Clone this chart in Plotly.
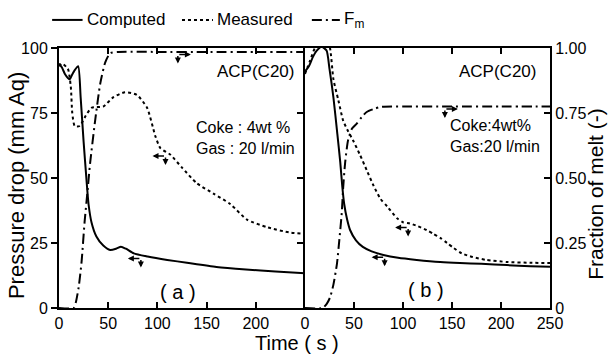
import plotly.graph_objects as go

# ---------------- data ----------------
# Panel (a)
ta_comp = [0, 3, 6, 9, 11, 13, 16, 19.5, 22, 25, 28, 30, 33, 38, 45, 52, 58, 63, 68, 76, 90, 110, 130, 160, 190, 220, 250]
pa_comp = [94, 92.5, 90, 88.5, 88, 89.5, 91.5, 93, 81, 64, 49, 40, 33, 27.5, 24, 22.3, 22.8, 23.6, 22.8, 21, 19.8, 18.5, 17.4, 15.8, 14.8, 14.0, 13.4]

ta_meas = [0, 3, 9, 12, 13.5, 16, 21, 26.5, 33, 45, 55, 67, 79, 89.5, 98, 103, 113, 125, 140, 157, 174, 191, 212, 235, 250]
pa_meas = [93, 94, 92, 85, 75, 70, 70, 73.5, 77, 77.5, 81, 83, 82, 77, 66, 61.5, 59, 54, 48, 44, 40, 34, 31, 29, 28.5]

ta_fm = [0, 15, 17, 20, 23, 26, 29, 31.6, 36.7, 42, 47, 52, 60, 100, 150, 200, 250]
fa_fm = [0, 0, 0.02, 0.08, 0.18, 0.33, 0.45, 0.556, 0.72, 0.865, 0.945, 0.98, 0.985, 0.985, 0.985, 0.985, 0.985]

# Panel (b)
tb_comp = [0, 4, 8, 12, 17, 22, 25, 29, 33, 36, 38, 40, 43, 46, 52, 59, 68, 80, 95, 114, 138, 158, 180, 206, 230, 250]
pb_comp = [91, 93, 96.5, 99, 100.5, 99, 92, 81, 67, 56, 47, 40, 34, 30, 26, 23.5, 21.8, 20.4, 19.3, 18.5, 17.7, 17.3, 17.0, 16.5, 16.1, 15.9]

tb_meas = [0, 5, 10, 15, 18, 22, 25.5, 29, 34, 39, 44, 49, 56, 63, 70, 77, 84, 94, 100, 107, 115, 124, 131, 138, 145, 152, 160, 171, 185, 206, 230, 250]
pb_meas = [90, 95, 100, 103.5, 104, 103, 100, 88, 80, 72, 68, 64.5, 59, 53, 47, 42, 39, 34.5, 33, 32.5, 31.5, 30, 28.5, 27, 25, 23, 21, 19.6, 18.5, 17.7, 17.4, 17.3]

tb_fm = [0, 18, 22, 25.5, 29, 32.6, 35, 37.5, 39, 41, 44, 48, 53, 58, 63, 70, 77, 100, 150, 200, 250]
fb_fm = [0, 0, 0.015, 0.04, 0.09, 0.17, 0.26, 0.365, 0.465, 0.56, 0.646, 0.69, 0.71, 0.735, 0.754, 0.765, 0.773, 0.775, 0.775, 0.775, 0.775]

xa_ticks = [0, 50, 100, 150, 200]
xb_ticks = [0, 50, 100, 150, 200, 250]
p_ticks = [0, 25, 50, 75, 100]
p_inner_ticks = [25, 50, 75]
f_ticks = [0, 0.25, 0.5, 0.75, 1.0]
f_labels = ["0", "0.25", "0.50", "0.75", "1.00"]

legend_names = ["Computed", "Measured", "F<sub>m</sub>"]

FONT = "Liberation Sans"
BLACK = "black"
LW = 2
DASH_MEAS = "3px,3px"
DASH_FM = "10px,4px,2px,4px"
DASHES = ["solid", DASH_MEAS, DASH_FM]

fig = go.Figure()

def add(x, y, xa, ya, dash, name):
    fig.add_trace(go.Scatter(
        x=x, y=y, xaxis=xa, yaxis=ya, mode="lines", name=name, showlegend=False,
        line=dict(color=BLACK, width=LW, dash=dash, shape="spline", smoothing=0.6),
    ))

add(ta_comp, pa_comp, "x", "y", DASHES[0], legend_names[0])
add(ta_meas, pa_meas, "x", "y", DASHES[1], legend_names[1])
add(ta_fm, fa_fm, "x", "y2", DASHES[2], legend_names[2])
add(tb_comp, pb_comp, "x2", "y3", DASHES[0], legend_names[0])
add(tb_meas, pb_meas, "x2", "y3", DASHES[1], legend_names[1])
add(tb_fm, fb_fm, "x2", "y4", DASHES[2], legend_names[2])

axis_common = dict(showline=True, linecolor=BLACK, linewidth=2, showgrid=False,
                   zeroline=False, tickcolor=BLACK, tickwidth=2,
                   tickfont=dict(family=FONT, size=16, color=BLACK))

fig.update_layout(
    width=608, height=356,
    margin=dict(l=59, r=58, t=48, b=48),
    paper_bgcolor="white", plot_bgcolor="white",
    font=dict(family=FONT, color=BLACK),
    showlegend=False,
    xaxis=dict(domain=[0, 0.501], range=[0, 250], tickvals=xa_ticks, ticks="inside",
               ticklen=6, mirror="ticks", anchor="y", **axis_common),
    xaxis2=dict(domain=[0.501, 1], range=[0, 250], tickvals=xb_ticks, ticks="inside",
                ticklen=6, mirror="ticks", anchor="y3", **axis_common),
    yaxis=dict(domain=[0, 1], range=[0, 100], tickvals=p_ticks, ticks="outside",
               ticklen=6, anchor="x", **axis_common),
    yaxis2=dict(range=[0, 1], overlaying="y", anchor="x", visible=False),
    yaxis3=dict(domain=[0, 1], range=[0, 100], tickvals=p_inner_ticks, ticks="outside",
                ticklen=6, showticklabels=False, anchor="x2", **axis_common),
    yaxis4=dict(range=[0, 1], overlaying="y3", anchor="x2", side="right",
                tickvals=f_ticks, ticktext=f_labels, ticks="inside", ticklen=6,
                **axis_common),
    yaxis5=dict(range=[0, 100], overlaying="y", anchor="x", side="right",
                tickvals=p_inner_ticks, ticks="outside", ticklen=6, showline=False,
                showticklabels=False, showgrid=False, zeroline=False,
                tickcolor=BLACK, tickwidth=2),
)

annos = [
    dict(text="Pressure drop (mm Aq)", xref="paper", yref="paper", x=-0.085, y=0.47,
         textangle=-90, font=dict(size=22)),
    dict(text="Time ( s )", xref="paper", yref="paper", x=0.485, y=-0.135,
         borderpad=0, font=dict(size=20)),
    dict(text="Fraction of melt (-)", xref="paper", yref="paper", x=1.092, y=0.44,
         textangle=-90, font=dict(size=21)),
    dict(text="ACP(C20)", xref="x", yref="y", x=200, y=91, font=dict(size=17)),
    dict(text="ACP(C20)", xref="x2", yref="y3", x=196, y=91, font=dict(size=17)),
    dict(text="Coke : 4wt %<br>Gas : 20 l/min", xref="x", yref="y", x=137, y=65.5,
         xanchor="left", align="left", font=dict(size=16)),
    dict(text="Coke:4wt%<br>Gas:20 l/min", xref="x2", yref="y3", x=146, y=66,
         xanchor="left", align="left", font=dict(size=16)),
    dict(text="( a )", xref="x", yref="y", x=121, y=6, font=dict(size=20)),
    dict(text="( b )", xref="x2", yref="y3", x=123, y=7, font=dict(size=20)),
]
for a in annos:
    a.setdefault("showarrow", False)
    a.setdefault("xanchor", "center")
    a.setdefault("yanchor", "middle")
    f = a.get("font", {})
    f.setdefault("family", FONT)
    f.setdefault("color", BLACK)
    a["font"] = f

# legend drawn manually (line sample + label)
leg_x = [-0.014, 0.2505, 0.515]
leg_len = [0.062, 0.063, 0.057]
leg_y = 1.108
shapes = []
for i, name in enumerate(legend_names):
    shapes.append(dict(type="line", xref="paper", yref="paper",
                       x0=leg_x[i], x1=leg_x[i] + leg_len[i], y0=leg_y, y1=leg_y,
                       line=dict(color=BLACK, width=LW, dash=DASHES[i])))
    annos.append(dict(text=name, xref="paper", yref="paper",
                      x=leg_x[i] + leg_len[i] + 0.004, y=leg_y, xanchor="left",
                      yanchor="middle", showarrow=False,
                      font=dict(family=FONT, size=17, color=BLACK)))

# axis indicator arrows (left-pointing for pressure curves, right-pointing for Fm)
def ind(xr, yr, x, y, direction):
    s = 1 if direction == "left" else -1
    annos.append(dict(xref=xr, yref=yr, x=x, y=y, ax=13 * s, ay=0, showarrow=True,
                      arrowhead=2, arrowsize=0.8, arrowwidth=1.5, arrowcolor=BLACK, text=""))
    annos.append(dict(xref=xr, yref=yr, x=x, y=y, xshift=13 * s, yshift=-9, ax=0, ay=-9,
                      showarrow=True, arrowhead=2, arrowsize=0.8, arrowwidth=1.5,
                      arrowcolor=BLACK, text=""))

ind("x", "y", 95, 58.5, "left")
ind("x", "y", 70, 19, "left")
ind("x", "y2", 134, 0.975, "right")
ind("x2", "y3", 92, 31, "left")
ind("x2", "y3", 68, 19.5, "left")
ind("x2", "y4", 156, 0.765, "right")

fig.update_layout(annotations=annos, shapes=shapes)

fig.write_html("out.html")
